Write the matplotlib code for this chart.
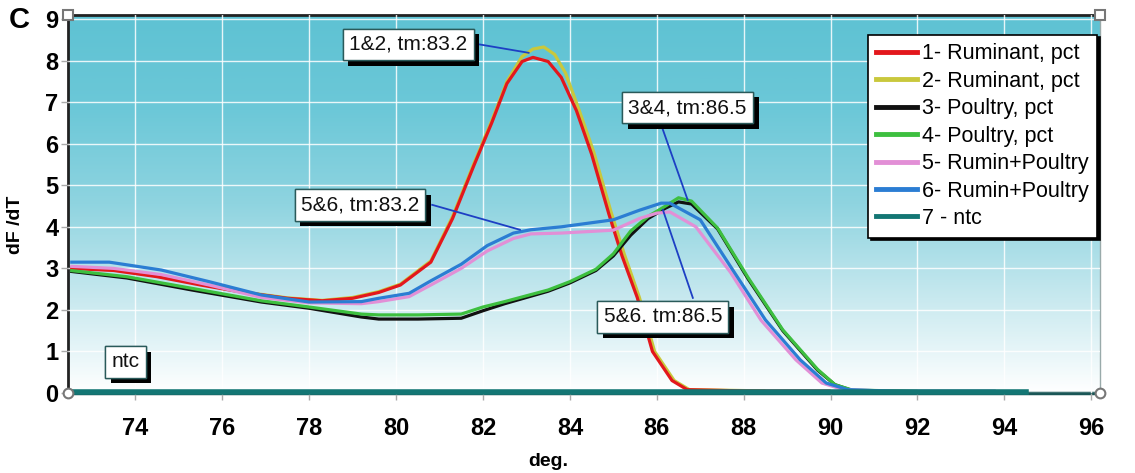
import numpy as np
import matplotlib
matplotlib.use("Agg")
import matplotlib.pyplot as plt
from matplotlib import patheffects
from matplotlib.colors import LinearSegmentedColormap
from matplotlib.lines import Line2D
from matplotlib import font_manager

# ---------------- data ----------------
x_red = [72.5, 73.5, 74.5, 75.5, 76.5, 77.5, 78.3, 79.0, 79.6, 80.1, 80.8, 81.3, 81.8, 82.2,
         82.55, 82.9, 83.15, 83.5, 83.8, 84.15, 84.5, 84.9, 85.2, 85.55, 85.9, 86.35, 86.7, 88.0, 90.0]
y_red = [3.0, 2.95, 2.8, 2.6, 2.42, 2.28, 2.22, 2.28, 2.42, 2.6, 3.15, 4.2, 5.5, 6.5,
         7.45, 7.98, 8.08, 7.98, 7.6, 6.8, 5.75, 4.3, 3.3, 2.3, 1.0, 0.3, 0.08, 0.05, 0.05]

x_yel = [72.5, 73.5, 74.5, 75.5, 76.5, 77.5, 78.3, 79.0, 79.6, 80.1, 80.8, 81.3, 81.8, 82.2,
         82.55, 82.9, 83.15, 83.4, 83.65, 83.9, 84.2, 84.55, 84.95, 85.25, 85.6, 85.95, 86.4, 86.75, 88.5]
y_yel = [3.02, 2.96, 2.82, 2.62, 2.43, 2.29, 2.23, 2.3, 2.44, 2.62, 3.18, 4.25, 5.55, 6.55,
         7.5, 8.1, 8.28, 8.33, 8.15, 7.7, 6.85, 5.8, 4.35, 3.35, 2.3, 1.0, 0.3, 0.08, 0.05]

x_blk = [72.5, 73.8, 75.3, 76.9, 78.0, 79.2, 79.6, 80.5, 81.5, 82.0, 82.5, 83.5, 84.0, 84.6, 85.0,
         85.4, 85.8, 86.2, 86.5, 86.8, 87.4, 88.1, 88.9, 89.7, 90.1, 90.5, 92.0]
y_blk = [2.93, 2.77, 2.48, 2.19, 2.04, 1.83, 1.78, 1.78, 1.8, 1.98, 2.15, 2.45, 2.65, 2.95, 3.3,
         3.8, 4.2, 4.45, 4.6, 4.55, 3.95, 2.75, 1.5, 0.55, 0.2, 0.06, 0.03]

x_grn = [72.5, 73.8, 75.3, 76.9, 78.0, 79.2, 79.6, 80.5, 81.5, 82.0, 82.5, 83.5, 84.0, 84.6, 85.0,
         85.4, 85.8, 86.2, 86.5, 86.8, 87.4, 88.1, 88.9, 89.7, 90.1, 90.5, 92.0]
y_grn = [2.95, 2.8, 2.52, 2.22, 2.07, 1.9, 1.88, 1.88, 1.9, 2.07, 2.2, 2.48, 2.68, 2.98, 3.35,
         3.9, 4.25, 4.5, 4.7, 4.62, 3.97, 2.78, 1.52, 0.57, 0.2, 0.07, 0.04]

x_pnk = [72.5, 73.5, 74.6, 75.7, 76.9, 78.0, 79.2, 79.6, 80.3, 80.8, 81.5, 82.1, 82.7, 83.1, 83.8,
         85.0, 85.6, 86.0, 86.3, 86.9, 87.7, 88.4, 89.2, 89.8, 90.3, 91.5, 93.8]
y_pnk = [3.05, 3.0, 2.85, 2.6, 2.3, 2.17, 2.15, 2.2, 2.32, 2.6, 3.0, 3.42, 3.72, 3.83, 3.85,
         3.92, 4.2, 4.33, 4.36, 4.0, 2.9, 1.75, 0.8, 0.24, 0.08, 0.04, 0.04]

x_blu = [72.5, 73.4, 74.6, 75.7, 76.9, 78.0, 79.2, 79.6, 80.3, 80.8, 81.5, 82.1, 82.7, 83.1, 83.8,
         85.0, 85.6, 86.1, 86.3, 87.0, 87.75, 88.5, 89.3, 89.9, 90.4, 91.5, 93.8]
y_blu = [3.15, 3.15, 2.96, 2.68, 2.36, 2.19, 2.2, 2.28, 2.4, 2.7, 3.1, 3.55, 3.85, 3.93, 4.0,
         4.17, 4.4, 4.57, 4.57, 4.17, 2.96, 1.76, 0.8, 0.24, 0.08, 0.04, 0.04]

x_ntc = [72.5, 80.0, 88.0, 94.5]
y_ntc = [0.02, 0.02, 0.02, 0.02]

labels = ["1- Ruminant, pct", "2- Ruminant, pct", "3- Poultry, pct", "4- Poultry, pct",
          "5- Rumin+Poultry", "6- Rumin+Poultry", "7 - ntc"]
colors = ["#e3171c", "#c9c83c", "#111111", "#3dbf3f", "#e28fd6", "#2b7dd3", "#137674"]

x_ticks = [74, 76, 78, 80, 82, 84, 86, 88, 90, 92, 94, 96]
y_ticks = [0, 1, 2, 3, 4, 5, 6, 7, 8, 9]

# annotations: text, box centre (x, y), line start, line end
ann_text = ["1&2, tm:83.2", "3&4, tm:86.5", "5&6, tm:83.2", "5&6. tm:86.5", "ntc"]
ann_pos = [(80.28, 8.39), (86.71, 6.87), (79.17, 4.53), (86.14, 1.83), (73.77, 0.75)]
ann_line = [((81.93, 8.39), (83.05, 8.19)),
            ((86.14, 6.34), (86.71, 4.65)),
            ((80.83, 4.53), (82.85, 3.93)),
            ((86.83, 2.29), (86.14, 4.41)),
            None]

# ---------------- fonts ----------------
avail = {f.name for f in font_manager.fontManager.ttflist}
fam = "Liberation Sans Narrow" if "Liberation Sans Narrow" in avail else "Liberation Sans"
plt.rcParams["font.family"] = [fam, "DejaVu Sans"]

fig = plt.figure(figsize=(11.35, 4.73), dpi=100)
ax = fig.add_axes([68 / 1135, 1 - 393 / 473, (1100 - 68) / 1135, (393 - 15) / 473])

xlim = (72.45, 96.2)
ylim = (0, 9.1)

# gradient background
cmap = LinearSegmentedColormap.from_list("bg", ["#ffffff", "#c8e9ef", "#8fd4e0", "#6cc8d8", "#5ec2d3"])
grad = np.linspace(0, 1, 256).reshape(-1, 1)
ax.imshow(grad, aspect="auto", cmap=cmap, origin="lower",
          extent=(xlim[0], xlim[1], ylim[0], ylim[1]), zorder=0)

ax.set_xlim(*xlim)
ax.set_ylim(*ylim)

ax.set_xticks(x_ticks)
ax.set_yticks(y_ticks)
ax.grid(True, color="white", linewidth=1.0, alpha=0.85, zorder=1)
ax.set_axisbelow(False)

series = [(x_yel, y_yel, 1), (x_red, y_red, 0), (x_blk, y_blk, 2), (x_grn, y_grn, 3),
          (x_pnk, y_pnk, 4), (x_blu, y_blu, 5)]
for xs, ys, i in series:
    ax.plot(xs, ys, color=colors[i], lw=2.3, zorder=3, solid_capstyle="butt")
ax.plot(x_ntc, y_ntc, color=colors[6], lw=4, zorder=4, clip_on=False)

# annotation lines and boxes
for txt, pos, ln in zip(ann_text, ann_pos, ann_line):
    if ln is not None:
        ax.plot([ln[0][0], ln[1][0]], [ln[0][1], ln[1][1]], color="#1d3fc4", lw=1.3, zorder=5)
    t = ax.text(pos[0], pos[1], txt, ha="center", va="center", fontsize=15, color="#111111", zorder=6,
                bbox=dict(boxstyle="square,pad=0.3", fc="white", ec="#2a5a5a", lw=1.0))
    t.get_bbox_patch().set_path_effects([
        patheffects.withSimplePatchShadow(offset=(4, -4), shadow_rgbFace="black", alpha=1.0),
        patheffects.Normal()])

# legend
handles = [Line2D([], [], color=c, lw=3.5) for c in colors]
leg = ax.legend(handles, labels, loc="upper right", bbox_to_anchor=(0.997, 0.948),
                fontsize=15.5, frameon=True, fancybox=False, framealpha=1,
                edgecolor="black", handlelength=1.9, handletextpad=0.2,
                labelspacing=0.3, borderpad=0.4, borderaxespad=0,
                shadow={"color": "black", "alpha": 1.0})
leg.get_frame().set_linewidth(1.2)
leg.set_zorder(7)

# spines
for s in ["left", "top"]:
    ax.spines[s].set_color("#222222")
    ax.spines[s].set_linewidth(2)
ax.spines["bottom"].set_color("#1a5656")
ax.spines["bottom"].set_linewidth(2.5)
ax.spines["right"].set_color("#9aa")
ax.spines["right"].set_linewidth(1)

ax.tick_params(axis="both", length=5, width=1, color="#aaaaaa", direction="out")
ax.tick_params(axis="x", pad=12)
ax.tick_params(axis="y", pad=2)
for lab in ax.get_xticklabels() + ax.get_yticklabels():
    lab.set_fontweight("bold")
    lab.set_fontsize(17)

# corner handles
for (cx, cy, m) in [(xlim[0], ylim[1], "s"), (xlim[0], 0, "o"), (xlim[1], ylim[1], "s"), (xlim[1], 0, "o")]:
    ax.plot([cx], [cy], marker=m, ms=7, mfc="white", mec="#777777", mew=1.5, clip_on=False, zorder=10)

fig.text(548 / 1135, 1 - 461 / 473, "deg.", ha="center", va="center", fontsize=14, fontweight="bold")
fig.text(16 / 1135, 1 - 225 / 473, "dF /dT", ha="center", va="center", rotation=90, fontsize=14, fontweight="bold")
fig.text(19 / 1135, 1 - 20 / 473, "C", ha="center", va="center", fontsize=21, fontweight="bold")

fig.savefig("out.png", dpi=100, facecolor="white")
